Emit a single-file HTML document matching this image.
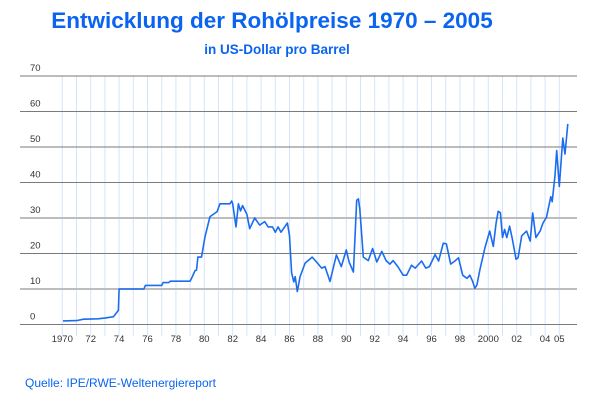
<!DOCTYPE html>
<html><head><meta charset="utf-8"><style>
body{margin:0;background:#fff;}
svg{display:block;font-family:"Liberation Sans",sans-serif;}
</style></head><body>
<svg id="chart" width="615" height="411" viewBox="0 0 615 411" xmlns="http://www.w3.org/2000/svg">
<text x="272" y="28" text-anchor="middle" font-size="22.5" font-weight="bold" fill="#0a64f0">Entwicklung der Rohölpreise 1970 – 2005</text>
<text x="277" y="54" text-anchor="middle" font-size="13.5" font-weight="bold" fill="#0a64f0">in US-Dollar pro Barrel</text>
<g id="vgrid"></g><g id="hgrid"></g><g id="labels"></g>
<path id="line" fill="none" stroke="#1a6cf0" stroke-width="1.6" stroke-linejoin="round"/>
<text x="25" y="387" font-size="12" fill="#0a64f0">Quelle: IPE/RWE-Weltenergiereport</text>
</svg>
<script>
const years=[1970.05,1971,1971.5,1972.5,1973,1973.6,1973.85,1973.95,1974.0,1975.75,1975.85,1977.0,1977.1,1977.5,1977.6,1979.0,1979.1,1979.35,1979.45,1979.55,1979.8,1980.05,1980.4,1980.9,1981.1,1981.8,1981.93,1982.0,1982.23,1982.4,1982.55,1982.7,1983.0,1983.2,1983.55,1983.9,1984.25,1984.5,1984.8,1985.0,1985.2,1985.4,1985.85,1986.0,1986.15,1986.3,1986.4,1986.55,1986.75,1987.1,1987.6,1987.9,1988.27,1988.5,1988.85,1989.3,1989.65,1990.0,1990.2,1990.5,1990.73,1990.85,1990.95,1991.2,1991.55,1991.85,1992.15,1992.5,1992.8,1993.07,1993.3,1993.65,1994.0,1994.25,1994.6,1994.85,1995.3,1995.6,1995.85,1996.25,1996.5,1996.83,1997.05,1997.35,1997.65,1997.9,1998.2,1998.5,1998.7,1998.9,1999.05,1999.2,1999.4,1999.77,2000.1,2000.35,2000.55,2000.7,2000.85,2001.0,2001.15,2001.3,2001.5,2001.7,2001.95,2002.1,2002.35,2002.7,2002.95,2003.13,2003.35,2003.65,2003.85,2004.1,2004.4,2004.5,2004.7,2004.82,2005.0,2005.25,2005.4,2005.6];
const prices=[1.0,1.1,1.5,1.6,1.8,2.2,3.5,4.0,10,10,11,11,11.8,11.8,12.2,12.2,13,15.2,15.3,19,19,24.7,30.4,31.8,34,34,34.8,34,27.5,34,32,33.5,31,27,30,28,29,27.5,27.5,26,27.5,26,28.6,25,14.6,12,13.5,9.3,13.5,17.3,19,17.6,15.9,16.3,12.1,19.6,16.3,21,17.6,14.8,35,35.4,32.6,19,18,21.4,17.6,20.6,18,17,18,16.2,13.9,13.9,16.7,15.9,17.9,15.9,16.3,19.7,17.9,22.9,22.7,17,17.9,18.8,13.9,13,13.9,12.1,10.2,11.1,15.3,21.7,26.3,22,28.6,31.9,31.5,24.5,26.8,24.5,27.7,24,18.4,18.8,25,26.3,23.5,31.4,24.5,26.3,28.6,30.2,36,34.6,42,49,38.9,52.5,48,56.5];
const yTicks=[0,10,20,30,40,50,60,70];
const xTickYears=[1970,1972,1974,1976,1978,1980,1982,1984,1986,1988,1990,1992,1994,1996,1998,2000,2002,2004,2005];
const xTickLabels=["1970","72","74","76","78","80","82","84","86","88","90","92","94","96","98","2000","02","04","05"];
const X=y=>62.3+(y-1970)*14.2;
const Y=v=>324.5-v*3.55;
const NS="http://www.w3.org/2000/svg";
function mk(t,a,p){const e=document.createElementNS(NS,t);for(const k in a)e.setAttribute(k,a[k]);p.appendChild(e);return e;}
const vg=document.getElementById('vgrid'),hg=document.getElementById('hgrid'),lb=document.getElementById('labels');
for(let yr=1970;yr<=2005;yr++){
 const l=mk('line',{x1:X(yr),x2:X(yr),y1:76,y2:336,stroke:'#d6e4fb','stroke-width':1},vg);
 
 
}
yTicks.forEach(v=>{
 const light=(v===10||v===30);
 const l=mk('line',{x1:20,x2:577,y1:Y(v),y2:Y(v),stroke:light?'#bdbdbd':'#7a7a7a','stroke-width':light?2:1},hg);
 
 
 const t=mk('text',{x:30,y:Y(v)-5,'font-size':9.5,fill:'#333'},lb);
 t.textContent=String(v);
 
 
});
xTickYears.forEach((yr,i)=>{
 const t=mk('text',{x:X(yr),y:342,'font-size':9.5,fill:'#333','text-anchor':'middle'},lb);
 t.textContent=xTickLabels[i];
 
 
});
document.getElementById('line').setAttribute('d',years.map((y,i)=>(i?'L':'M')+X(y).toFixed(1)+' '+Y(prices[i]).toFixed(1)).join(' '));
</script>
</body></html>
